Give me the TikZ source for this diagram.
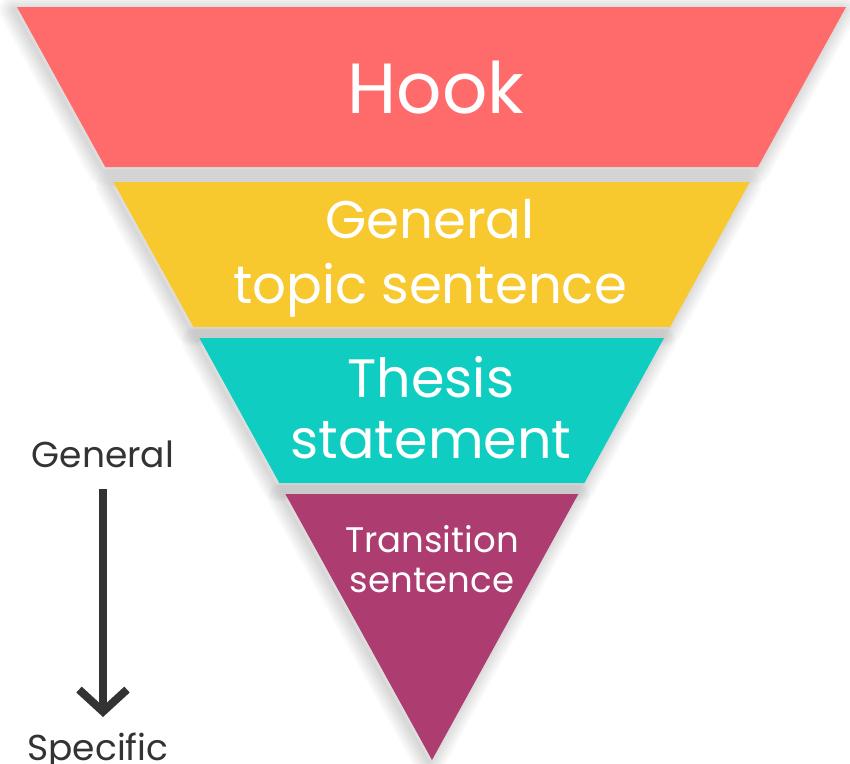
\documentclass[tikz,border=0pt]{standalone}
\usepackage{fontspec}
\setmainfont{Poppins}
\usetikzlibrary{calc,positioning,arrows.meta}
\definecolor{hookred}{HTML}{FF6B6B}
\definecolor{topicyellow}{HTML}{F8C82F}
\definecolor{thesisteal}{HTML}{10CDC2}
\definecolor{transpurple}{HTML}{AD3D70}
\definecolor{textgrey}{HTML}{333333}
\tikzset{bandtext/.style={text=white,align=center,anchor=base,inner sep=0pt},
sidetext/.style={text=textgrey,anchor=base,inner sep=0pt,font=\fontsize{36}{40}\selectfont},
haze/.style={draw=black,line join=round,draw opacity=0.018}}

\begin{document}
\begin{tikzpicture}[x=1pt,y=-1pt]

\useasboundingbox[fill=white] (0,0) rectangle (850,763);

% Band corners
\coordinate (h1) at (17,7); \coordinate (h2) at (846,7);
\coordinate (h3) at (757.9,167); \coordinate (h4) at (105.2,167);
\coordinate (y1) at (113.4,182); \coordinate (y2) at (749.7,182);
\coordinate (y3) at (670.0,327); \coordinate (y4) at (193.4,327);
\coordinate (t1) at (199.4,338); \coordinate (t2) at (664.0,338);
\coordinate (t3) at (584.3,483); \coordinate (t4) at (279.3,483);
\coordinate (p1) at (285.4,494); \coordinate (p2) at (578.3,494);
\coordinate (apex) at (432,760);

% Soft shadows
\foreach \w in {2,6,...,30} {
\draw[haze,line width=\w pt] ($(h1)+(-3,3)$) -- ($(h2)+(-3,3)$) -- ($(h3)+(-3,3)$) -- ($(h4)+(-3,3)$) -- cycle;
\draw[haze,line width=\w pt] ($(y1)+(-3,3)$) -- ($(y2)+(-3,3)$) -- ($(y3)+(-3,3)$) -- ($(y4)+(-3,3)$) -- cycle;
\draw[haze,line width=\w pt] ($(t1)+(-3,3)$) -- ($(t2)+(-3,3)$) -- ($(t3)+(-3,3)$) -- ($(t4)+(-3,3)$) -- cycle;
\draw[haze,line width=\w pt] ($(p1)+(-3,3)$) -- ($(p2)+(-3,3)$) -- ($(apex)+(-3,3)$) -- cycle;
}

% Bands
\fill[hookred] (h1) -- (h2) -- (h3) -- (h4) -- cycle;
\fill[topicyellow] (y1) -- (y2) -- (y3) -- (y4) -- cycle;
\fill[thesisteal] (t1) -- (t2) -- (t3) -- (t4) -- cycle;
\fill[transpurple] (p1) -- (p2) -- (apex) -- cycle;

% Band labels (base = last line)
\node[bandtext,font=\fontsize{71}{80}\selectfont] (hook) at (436,113) {Hook};
\node[bandtext,font=\fontsize{53}{65}\selectfont] (topic) at (430,303) {General\\topic sentence};
\node[bandtext,font=\fontsize{54}{61}\selectfont] (thesis) at (431,458) {Thesis\\statement};
\node[bandtext,font=\fontsize{35.5}{40}\selectfont] (transition) at (432,592) {Transition\\sentence};

% General to specific
\node[sidetext] (general) at (103,467) {General};
\node[sidetext] (specific) at (98,760) {Specific};
\draw[textgrey,line width=8pt,-{Straight Barb[length=22pt,width=48pt,line width=8pt]}] ([yshift=-22pt]general.base) -- ([yshift=43pt]general.base |- specific.base);

\end{tikzpicture}
\end{document}
